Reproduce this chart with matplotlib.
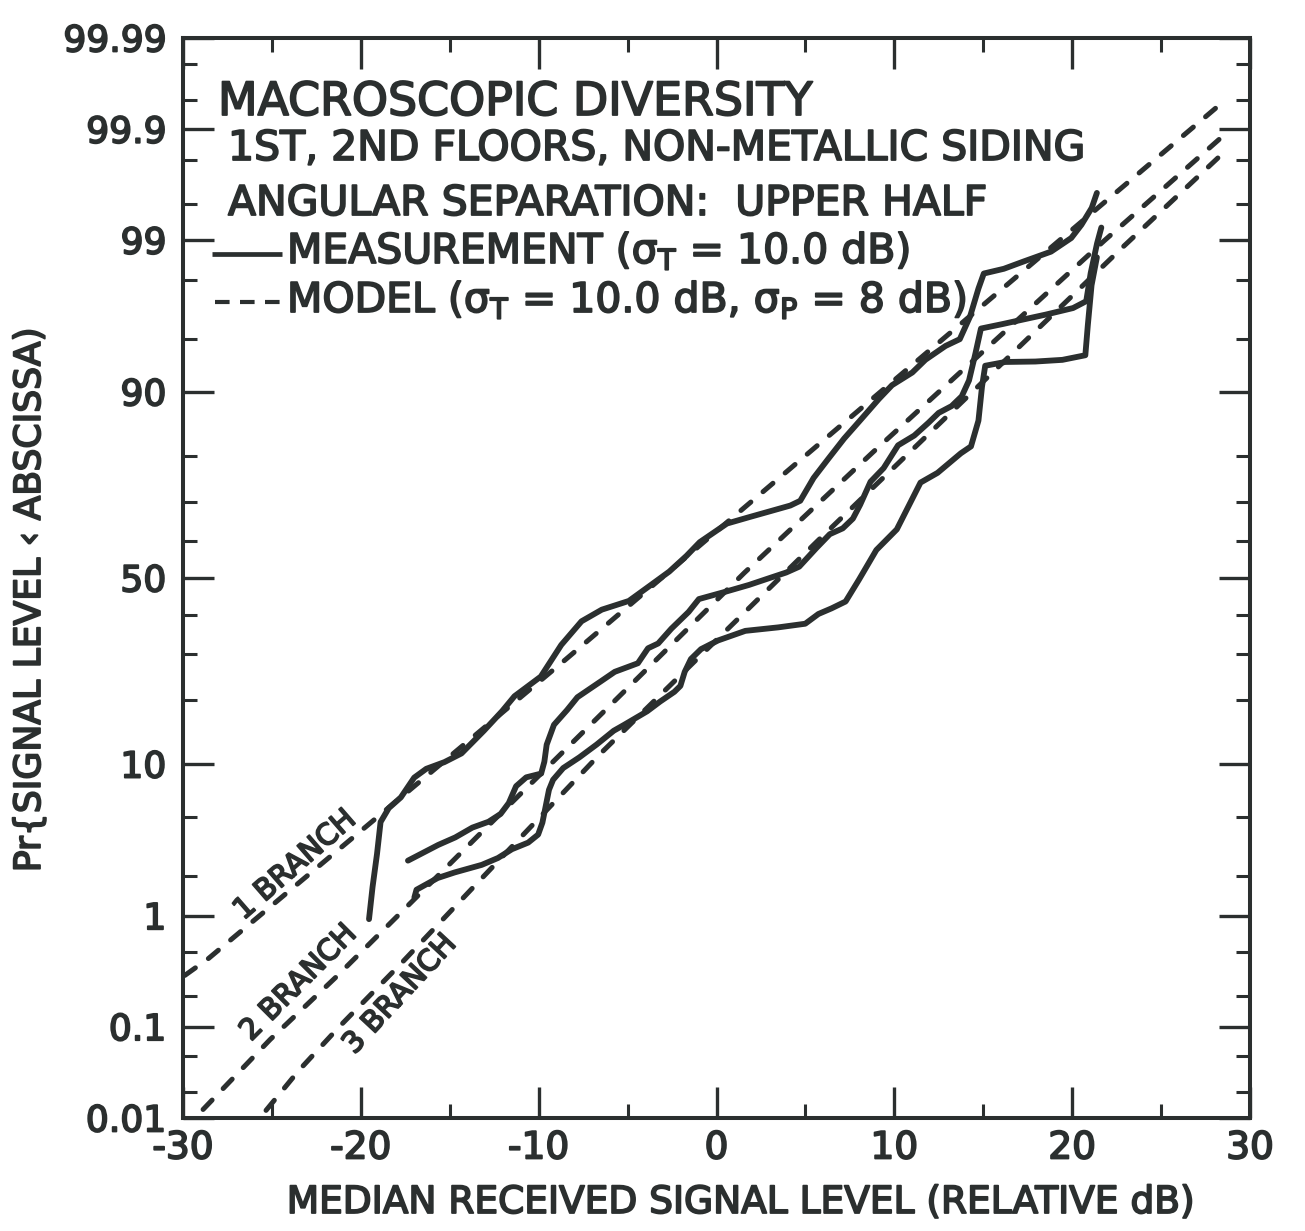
import numpy as np
import matplotlib
matplotlib.use("Agg")
import matplotlib.pyplot as plt
import matplotlib.patheffects as pe
from matplotlib.lines import Line2D
from matplotlib.ticker import NullFormatter
from statistics import NormalDist

INK = "#2b2f2f"
W, H = 1305, 1231

# ---------------------------------------------------------------------------
# Measured cumulative distributions: received level (dB) vs Pr{level < x} (%)
# ---------------------------------------------------------------------------
meas_1_db = [-19.54, -19.34, -19.09, -18.89, -18.43, -17.75, -17.00, -16.32, -15.30, -14.34,
             -13.08, -12.05, -11.36, -9.88, -8.73, -7.59, -6.45, -4.93, -3.79, -2.66,
             -1.69, -0.94, 0.59, 1.89, 3.02, 4.15, 4.71, 5.46, 6.27, 7.18,
             8.16, 9.13, 9.87, 11.01, 11.75, 12.88, 13.68, 14.26, 14.73, 15.03,
             16.16, 17.29, 18.81, 19.95, 20.52, 21.10, 21.39]
meas_1_pct = [0.94, 1.67, 2.87, 4.64, 5.65, 6.54, 8.46, 9.44, 10.24, 11.35,
              14.64, 17.98, 20.78, 24.86, 32.24, 38.28, 41.37, 43.72, 47.73, 51.75,
              56.05, 59.76, 64.62, 66.31, 67.72, 69.11, 70.26, 75.46, 79.34, 83.17,
              86.37, 89.12, 90.79, 92.15, 93.36, 94.50, 95.00, 96.42, 97.69, 98.20,
              98.34, 98.54, 98.77, 99.04, 99.25, 99.46, 99.60]

meas_2_db = [-17.35, -15.65, -14.69, -13.73, -12.82, -12.14, -11.68, -11.27, -10.70, -9.86,
             -9.68, -9.55, -9.14, -8.40, -7.82, -6.52, -5.72, -4.42, -3.85, -3.28,
             -2.54, -1.57, -0.99, 0.53, 1.83, 2.96, 3.92, 4.65, 5.62, 6.37,
             7.10, 7.67, 8.08, 8.66, 9.40, 10.21, 11.12, 11.92, 12.49, 13.22,
             13.79, 14.20, 14.56, 14.87, 16.11, 17.07, 18.53, 20.05, 20.79, 21.04,
             21.40, 21.64]
meas_2_pct = [2.58, 3.30, 3.70, 4.28, 4.66, 5.21, 6.06, 7.58, 8.49, 8.90,
              10.29, 12.55, 15.60, 18.17, 20.58, 23.79, 25.91, 27.86, 31.42, 32.60,
              36.35, 40.75, 44.23, 46.27, 48.10, 49.95, 51.51, 53.10, 58.19, 61.86,
              63.38, 65.87, 69.32, 74.63, 77.55, 81.96, 83.67, 85.75, 87.22, 88.18,
              89.46, 91.32, 93.90, 95.71, 95.99, 96.21, 96.52, 96.85, 97.17, 98.21,
              98.94, 99.21]

meas_3_db = [-16.99, -16.87, -15.68, -14.72, -13.20, -12.29, -11.50, -10.59, -10.03, -9.79,
             -9.61, -9.42, -9.19, -8.62, -7.71, -6.74, -5.78, -5.21, -3.90, -3.17,
             -2.37, -2.03, -1.79, -1.44, -0.87, 0.09, 1.62, 3.47, 4.99, 5.73,
             6.47, 7.26, 8.01, 8.99, 10.14, 11.47, 12.43, 13.74, 14.31, 14.73,
             14.93, 15.11, 16.24, 17.93, 19.45, 20.74, 20.88, 21.09, 21.39]
meas_3_pct = [1.39, 1.59, 1.94, 2.13, 2.41, 2.69, 3.09, 3.42, 3.86, 4.60,
              5.76, 7.23, 8.23, 9.53, 10.84, 12.57, 14.64, 15.57, 17.93, 19.74,
              21.65, 22.87, 25.88, 28.84, 31.21, 33.36, 35.79, 36.69, 37.64, 40.21,
              41.72, 43.57, 49.53, 57.65, 63.12, 74.44, 76.55, 80.48, 81.76, 86.08,
              90.63, 92.81, 93.16, 93.20, 93.35, 93.75, 95.91, 97.81, 98.64]

# Model curves (sigma_T = 10 dB, sigma_P = 8 dB) for 1, 2 and 3 branches
model_1_db = [-29.9, -28.56, -8.52, 8.74, 28.10]
model_1_pct = [0.31, 0.44, 28.6, 89.1, 99.94]
model_2_db = [-28.87, -25.10, -21.39, -18.02, -13.40, 1.56, 8.80, 21.80, 28.52]
model_2_pct = [0.0126, 0.074, 0.30, 0.97, 3.80, 51.4, 80.7, 98.99, 99.885]
model_3_db = [-25.33, -23.50, -21.21, -17.78, -13.44, -6.58, 5.69, 22.80, 28.51]
model_3_pct = [0.0123, 0.0345, 0.100, 0.39, 1.79, 11.20, 60.1, 98.85, 99.83]

# Axis ticks
x_major = [-30, -20, -10, 0, 10, 20, 30]
x_major_labels = ["-30", "-20", "-10", "0", "10", "20", "30"]
x_minor = [-25, -15, -5, 5, 15, 25]
y_major = [0.01, 0.1, 1, 10, 50, 90, 99, 99.9, 99.99]
y_major_labels = ["0.01", "0.1", "1", "10", "50", "90", "99", "99.9", "99.99"]
y_minor = [0.02, 0.05, 0.2, 0.5, 2, 5, 20, 30, 40, 60, 70, 80, 95, 98, 99.5, 99.8,
           99.95, 99.98]

# ---------------------------------------------------------------------------
# Normal-probability (probit) scale for the percentage axis
# ---------------------------------------------------------------------------
_norm = NormalDist()
_ppf = np.vectorize(_norm.inv_cdf, otypes=[float])
_cdf = np.vectorize(_norm.cdf, otypes=[float])


def pct_to_z(p):
    q = np.clip(np.asarray(p, dtype=float) / 100.0, 1e-12, 1 - 1e-12)
    return _ppf(q)


def z_to_pct(z):
    return _cdf(np.asarray(z, dtype=float)) * 100.0


plt.rcParams["font.family"] = ["DejaVu Sans"]
plt.rcParams["mathtext.fontset"] = "dejavusans"

# slightly heavier lettering
INK_STROKE = [pe.withStroke(linewidth=1.3, foreground=INK)]

fig = plt.figure(figsize=(W / 100, H / 100), dpi=100)
fig.patch.set_facecolor("white")
ax = fig.add_axes([183 / W, 1 - 1118 / H, (1250 - 183) / W, (1118 - 38) / H])
ax.set_yscale("function", functions=(pct_to_z, z_to_pct))
ax.set_xlim(-30, 30)
ax.set_ylim(0.01, 99.99)

# measured curves
for xs, ps in ((meas_1_db, meas_1_pct), (meas_2_db, meas_2_pct), (meas_3_db, meas_3_pct)):
    ax.plot(xs, ps, color=INK, lw=4.2, solid_capstyle="round", solid_joinstyle="round",
            zorder=3)

# model curves
for xs, ps in ((model_1_db, model_1_pct), (model_2_db, model_2_pct), (model_3_db, model_3_pct)):
    ax.plot(xs, ps, color=INK, lw=3.6, dashes=(2.6, 3.2), dash_capstyle="round", zorder=2)

# ticks
ax.set_xticks(x_major)
ax.set_xticklabels(x_major_labels)
ax.set_xticks(x_minor, minor=True)
ax.set_yticks(y_major)
ax.set_yticklabels(y_major_labels)
ax.set_yticks(y_minor, minor=True)
ax.xaxis.set_minor_formatter(NullFormatter())
ax.yaxis.set_minor_formatter(NullFormatter())
ax.tick_params(which="both", direction="in", top=True, right=True, color=INK,
               labelcolor=INK)
ax.tick_params(which="major", length=22, width=2.4)
ax.tick_params(which="minor", length=10, width=2.2)
ax.tick_params(axis="y", which="major", labelsize=26, pad=12)
ax.tick_params(axis="x", which="major", labelsize=27, pad=9)
for lbl in ax.get_xticklabels() + ax.get_yticklabels():
    lbl.set_path_effects(INK_STROKE)
for sp in ax.spines.values():
    sp.set_linewidth(2.9)
    sp.set_color(INK)

# branch labels along the model curves
branch_kw = dict(fontsize=21, color=INK, ha="center", va="center", rotation_mode="anchor",
                 path_effects=INK_STROKE)
ax.text(-23.7, 2.4, "1 BRANCH", rotation=41, **branch_kw)
ax.text(-23.5, 0.265, "2 BRANCH", rotation=45, **branch_kw)
ax.text(-17.8, 0.207, "3 BRANCH", rotation=47, **branch_kw)


# heading block and legend (positions in figure pixels)
def fx(px):
    return px / W


def fy(py):
    return 1 - py / H


head_kw = dict(color=INK, va="baseline", ha="left", path_effects=INK_STROKE)
fig.text(fx(218), fy(115), "MACROSCOPIC DIVERSITY", fontsize=33, **head_kw)
fig.text(fx(228), fy(160), "1ST, 2ND FLOORS, NON-METALLIC SIDING", fontsize=29.5, **head_kw)
fig.text(fx(228), fy(215), "ANGULAR SEPARATION:  UPPER HALF", fontsize=29.5, **head_kw)

fig.add_artist(Line2D([fx(212), fx(282)], [fy(254), fy(254)], transform=fig.transFigure,
                      color=INK, lw=3.4, solid_capstyle="butt"))
fig.text(fx(287), fy(263), r"MEASUREMENT ($\mathregular{\sigma_T}$ = 10.0 dB)",
         fontsize=29.5, **head_kw)

fig.add_artist(Line2D([fx(215), fx(285)], [fy(302), fy(302)], transform=fig.transFigure,
                      color=INK, lw=3.0, dashes=(3.5, 2.5), solid_capstyle="butt"))
fig.text(fx(287), fy(312),
         r"MODEL ($\mathregular{\sigma_T}$ = 10.0 dB, $\mathregular{\sigma_P}$ = 8 dB)",
         fontsize=29.5, **head_kw)

# axis titles
fig.text(fx(30), fy(600), "Pr{SIGNAL LEVEL \u2039 ABSCISSA)", rotation=90, fontsize=26,
         color=INK, ha="center", va="center", path_effects=INK_STROKE)
fig.text(fx(740), fy(1203), "MEDIAN RECEIVED SIGNAL LEVEL (RELATIVE dB)", fontsize=27,
         color=INK, ha="center", va="center", path_effects=INK_STROKE)

fig.savefig("out.png", dpi=100, facecolor="white")
